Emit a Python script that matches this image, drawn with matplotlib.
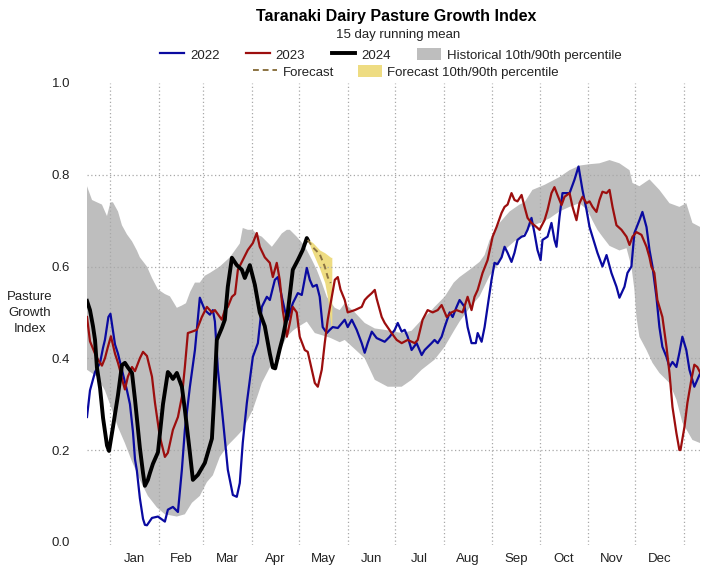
import numpy as np
import matplotlib.pyplot as plt
from matplotlib.lines import Line2D
from matplotlib.patches import Patch

plt.rcParams['font.family'] = ['Liberation Sans', 'DejaVu Sans']

months = ['Jan', 'Feb', 'Mar', 'Apr', 'May', 'Jun',
          'Jul', 'Aug', 'Sep', 'Oct', 'Nov', 'Dec']
month_days = [31, 28, 31, 30, 31, 30, 31, 31, 30, 31, 30, 31]

# x = day of year (0 = 1 Jan), values = growth index
d2022 = [-14.6, -12.7, -9.5, -6.3, -4.4, -3.2, -1.0, 0.3, 3.2, 5.1, 7.6, 10.8, 12.7, 14.6,
         15.9, 17.1, 19.0, 21.0, 22.2, 23.5, 26.7, 30.5, 34.9, 36.8, 40.0, 43.2, 45.7, 47.6,
         50.8, 54.0, 57.1, 60.3, 63.5, 65.4, 66.7, 68.6, 71.8, 74.9, 78.1, 80.6, 82.5, 84.4,
         87.0, 90.8, 94.0, 96.5, 99.7, 101.6, 104.8, 106.7, 109.2, 111.1, 113.0, 116.2, 119.4,
         121.9, 125.1, 127.0, 128.9, 131.4, 133.3, 135.2, 137.8, 139.7, 141.6, 144.8, 149.2,
         151.1, 153.7, 156.8, 160.0, 161.9, 163.8, 166.4, 169.5, 174.6, 177.8, 181.0, 182.9,
         185.4, 187.3, 189.2, 191.7, 194.9, 198.1, 200.0, 204.4, 206.3, 208.3, 210.8, 212.7,
         215.9, 217.8, 220.3, 222.2, 225.4, 227.3, 229.8, 232.5, 233.7, 236.2, 238.1, 240.0,
         242.5, 244.4, 246.3, 248.9, 250.8, 252.7, 255.2, 257.1, 259.0, 261.6, 263.5, 265.4,
         267.9, 269.8, 271.7, 273.7, 274.9, 278.1, 280.6, 282.5, 283.8, 285.7, 287.6, 292.1,
         295.2, 297.8, 300.3, 302.9, 304.8, 306.7, 309.8, 313.0, 315.6, 318.7, 321.9, 323.8,
         327.0, 328.9, 331.4, 333.3, 336.5, 338.4, 341.0, 342.9, 344.8, 347.3, 349.2, 351.1,
         353.7, 355.6, 357.5, 360.0, 361.9, 363.8, 366.3, 368.3, 371.4, 373.3, 375.2]
v2022 = [0.272, 0.33, 0.37, 0.39, 0.423, 0.44, 0.49, 0.497, 0.43, 0.41, 0.375, 0.33, 0.30, 0.24,
         0.18, 0.155, 0.095, 0.05, 0.037, 0.036, 0.052, 0.055, 0.044, 0.07, 0.076, 0.065, 0.157, 0.244,
         0.338, 0.418, 0.532, 0.505, 0.495, 0.505, 0.48, 0.375, 0.266, 0.157, 0.102, 0.098, 0.128, 0.216,
         0.303, 0.403, 0.433, 0.512, 0.534, 0.527, 0.571, 0.577, 0.534, 0.505, 0.484, 0.52, 0.542,
         0.538, 0.597, 0.571, 0.556, 0.56, 0.534, 0.468, 0.455, 0.462, 0.468, 0.466, 0.484,
         0.468, 0.484, 0.462, 0.433, 0.412, 0.433, 0.458, 0.444, 0.436, 0.447, 0.462, 0.477,
         0.458, 0.462, 0.447, 0.418, 0.433, 0.407, 0.418, 0.433, 0.44, 0.433, 0.447, 0.468,
         0.50, 0.49, 0.512, 0.527, 0.512, 0.468, 0.433, 0.433, 0.455, 0.436, 0.468, 0.512,
         0.571, 0.608, 0.605, 0.62, 0.643, 0.63, 0.61, 0.63, 0.658, 0.665, 0.667, 0.68,
         0.706, 0.673, 0.636, 0.614, 0.658, 0.665, 0.695, 0.658, 0.643, 0.708, 0.76, 0.76,
         0.789, 0.818, 0.767, 0.723, 0.686, 0.665, 0.63, 0.60, 0.625, 0.586, 0.556, 0.532,
         0.556, 0.586, 0.60, 0.673, 0.701, 0.719, 0.686, 0.636, 0.60, 0.534, 0.468, 0.425,
         0.403, 0.381, 0.392, 0.381, 0.412, 0.447, 0.418, 0.375, 0.338, 0.353, 0.368]

d2023 = [-14.6, -12.7, -9.5, -7.6, -5.1, -3.2, -1.3, 0.6, 3.2, 5.1, 6.3, 7.6, 9.5, 11.4, 14.0,
         15.9, 19.0, 21.0, 23.5, 26.7, 28.6, 31.7, 34.9, 36.8, 40.0, 43.2, 45.7, 47.6, 49.5,
         52.1, 55.2, 58.4, 61.6, 64.8, 66.7, 71.1, 73.0, 74.9, 77.5, 79.5, 81.3, 84.4, 87.6,
         90.8, 93.3, 95.2, 98.4, 101.6, 103.5, 106.0, 107.9, 109.8, 112.4, 114.3, 116.2, 118.7,
         120.6, 123.8, 125.7, 128.3, 130.2, 132.1, 134.6, 136.5, 138.4, 141.0, 142.9, 144.8,
         146.5, 149.2, 151.1, 155.6, 160.0, 161.9, 163.8, 166.4, 168.3, 169.5, 172.7, 174.6,
         179.0, 182.2, 185.4, 189.2, 193.7, 195.6, 198.7, 201.9, 205.1, 208.3, 210.8, 214.0,
         217.1, 220.3, 224.1, 227.3, 229.8, 231.7, 233.7, 236.8, 240.0, 243.2, 245.7, 248.9,
         250.8, 252.7, 255.2, 257.1, 259.0, 261.6, 263.5, 265.4, 267.9, 271.1, 273.0, 276.2,
         278.1, 280.6, 282.5, 284.4, 287.0, 288.9, 292.1, 294.0, 296.5, 298.4, 300.3, 302.9,
         304.8, 306.7, 309.2, 311.1, 313.0, 315.6, 317.5, 319.4, 321.9, 325.1, 328.3, 330.2,
         332.1, 334.6, 337.8, 341.0, 342.9, 344.1, 346.0, 347.9, 351.1, 353.7, 355.6, 357.5,
         360.0, 361.9, 362.6, 365.1, 367.0, 369.5, 371.4, 373.3, 375.2]
v2023 = [0.49, 0.437, 0.41, 0.397, 0.384, 0.40, 0.425, 0.448, 0.41, 0.39, 0.375, 0.355, 0.332, 0.36, 0.381,
         0.372, 0.40, 0.414, 0.405, 0.36, 0.303, 0.229, 0.185, 0.194, 0.244, 0.272, 0.316, 0.381, 0.455,
         0.458, 0.462, 0.49, 0.512, 0.50, 0.505, 0.484, 0.505, 0.512, 0.534, 0.54, 0.593, 0.614, 0.636,
         0.651, 0.673, 0.643, 0.62, 0.608, 0.577, 0.608, 0.571, 0.505, 0.447, 0.477, 0.512, 0.50,
         0.447, 0.418, 0.414, 0.375, 0.346, 0.338, 0.375, 0.433, 0.484, 0.534, 0.571, 0.577,
         0.55, 0.527, 0.50, 0.505, 0.512, 0.527, 0.534, 0.542, 0.549, 0.53, 0.49, 0.477,
         0.455, 0.44, 0.433, 0.44, 0.433, 0.44, 0.484, 0.505, 0.50, 0.505, 0.516, 0.49,
         0.50, 0.505, 0.50, 0.534, 0.505, 0.534, 0.549, 0.586, 0.614, 0.665, 0.686, 0.717,
         0.73, 0.735, 0.76, 0.745, 0.742, 0.756, 0.73, 0.706, 0.695, 0.686, 0.68, 0.701,
         0.723, 0.76, 0.773, 0.756, 0.734, 0.752, 0.76, 0.73, 0.701, 0.738, 0.752, 0.738,
         0.742, 0.73, 0.719, 0.745, 0.763, 0.76, 0.767, 0.73, 0.69, 0.68, 0.665, 0.647,
         0.665, 0.675, 0.669, 0.643, 0.62, 0.60, 0.586, 0.527, 0.49, 0.425, 0.368, 0.294,
         0.237, 0.20, 0.20, 0.25, 0.303, 0.353, 0.386, 0.381, 0.368]

d2024 = [-14.6, -12.7, -10.8, -9.5, -8.3, -6.3, -4.4, -1.9, -0.6, 1.9, 5.1, 7.6, 9.5, 11.4,
         14.0, 15.9, 19.0, 21.0, 22.2, 24.1, 25.4, 27.3, 30.5, 33.7, 36.8, 38.1, 40.0, 42.5,
         45.7, 47.6, 50.8, 52.7, 55.9, 60.3, 64.8, 66.0, 67.9, 71.1, 73.0, 74.9, 77.5, 80.6,
         83.8, 85.7, 88.9, 92.1, 95.2, 98.4, 101.6, 103.5, 105.0, 107.9, 109.8, 113.0, 116.2,
         119.4, 122.5, 125.1, 125.7]
v2024 = [0.525, 0.505, 0.47, 0.44, 0.38, 0.335, 0.27, 0.21, 0.198, 0.25, 0.32, 0.385, 0.39, 0.38,
         0.368, 0.31, 0.205, 0.15, 0.122, 0.135, 0.15, 0.17, 0.195, 0.30, 0.37, 0.365, 0.355, 0.368,
         0.338, 0.288, 0.194, 0.135, 0.146, 0.172, 0.225, 0.30, 0.44, 0.466, 0.484, 0.556, 0.619, 0.603,
         0.593, 0.575, 0.603, 0.56, 0.50, 0.47, 0.41, 0.38, 0.378, 0.42, 0.445, 0.50, 0.593,
         0.614, 0.636, 0.662, 0.658]

d_fc = [125.7, 128.9, 133.3, 136.5, 138.4, 140.3]
v_fc = [0.658, 0.642, 0.627, 0.60, 0.577, 0.564]
d_fc_band = [125.7, 128.9, 133.3, 136.5, 138.4, 140.3, 141.0]
fc_hi = [0.66, 0.652, 0.636, 0.63, 0.625, 0.62, 0.62]
fc_lo = [0.658, 0.63, 0.595, 0.565, 0.53, 0.475, 0.46]

d_hist_hi = [-14.6, -11.4, -8.3, -5.1, -1.9, 0.3, 1.9, 5.1, 7.6, 10.8, 14.0, 17.1, 19.0, 23.5,
             26.7, 30.5, 34.9, 38.1, 42.5, 45.7, 48.3, 51.0, 54.0, 57.1, 60.3, 63.5, 69.8, 76.2,
             82.5, 84.4, 87.6, 90.8, 93.3, 96.5, 102.9, 106.7, 109.2, 112.4, 114.3, 118.7, 122.5,
             125.1, 128.3, 131.4, 134.6, 137.8, 142.9, 146.0, 149.2, 152.4, 155.6, 161.9, 168.3,
             174.6, 185.4, 191.7, 198.1, 203.2, 206.3, 212.7, 218.5, 222.2, 228.6, 234.9, 238.1,
             241.3, 247.6, 254.0, 260.3, 263.5, 268.5, 276.2, 285.7, 292.1, 298.4, 304.8, 311.1,
             317.5, 323.8, 330.2, 332.1, 336.5, 342.9, 349.2, 355.6, 361.9, 366.3, 370.2, 375.2]
v_hist_hi = [0.775, 0.745, 0.74, 0.735, 0.71, 0.74, 0.74, 0.72, 0.69, 0.67, 0.655, 0.635, 0.62, 0.60,
             0.575, 0.55, 0.54, 0.535, 0.51, 0.515, 0.52, 0.545, 0.565, 0.565, 0.58, 0.586, 0.60, 0.62,
             0.65, 0.684, 0.68, 0.68, 0.67, 0.665, 0.643, 0.66, 0.672, 0.68, 0.68, 0.665, 0.65,
             0.636, 0.615, 0.593, 0.565, 0.534, 0.51, 0.505, 0.52, 0.51, 0.50, 0.477, 0.465,
             0.462, 0.455, 0.46, 0.484, 0.50, 0.512, 0.534, 0.565, 0.577, 0.593, 0.61, 0.625,
             0.658, 0.695, 0.72, 0.735, 0.74, 0.767, 0.778, 0.795, 0.81, 0.82, 0.823, 0.825,
             0.832, 0.825, 0.81, 0.782, 0.775, 0.79, 0.767, 0.738, 0.73, 0.738, 0.695, 0.686]

d_hist_lo = [-14.6, -8.3, -3.2, 0.0, 5.1, 9.5, 14.0, 19.0, 24.1, 29.8, 34.9, 42.5, 47.6, 52.1,
             57.1, 61.6, 65.4, 69.8, 74.9, 80.6, 84.4, 88.2, 90.8, 94.0, 96.5, 101.6, 106.0,
             112.4, 116.2, 119.4, 125.1, 130.2, 139.7, 146.0, 149.2, 155.6, 161.9, 168.3, 176.5,
             185.4, 191.7, 198.1, 206.3, 212.7, 219.0, 222.2, 228.6, 234.9, 241.3, 245.7, 250.8,
             257.1, 261.6, 266.7, 273.0, 279.4, 285.7, 292.1, 298.4, 303.5, 306.7, 309.8, 313.0,
             317.5, 323.8, 328.3, 331.4, 333.3, 334.6, 336.5, 341.0, 344.8, 349.2, 355.6, 360.0,
             363.8, 370.2, 375.2]
v_hist_lo = [0.375, 0.36, 0.33, 0.30, 0.25, 0.215, 0.175, 0.135, 0.10, 0.075, 0.06, 0.055, 0.06, 0.085,
             0.10, 0.13, 0.145, 0.185, 0.21, 0.23, 0.244, 0.27, 0.288, 0.32, 0.346, 0.38, 0.403,
             0.447, 0.46, 0.468, 0.48, 0.455, 0.445, 0.435, 0.44, 0.42, 0.40, 0.353, 0.338,
             0.338, 0.353, 0.375, 0.397, 0.425, 0.462, 0.48, 0.51, 0.535, 0.58, 0.60, 0.636,
             0.655, 0.665, 0.686, 0.695, 0.705, 0.72, 0.73, 0.738, 0.723, 0.70, 0.68, 0.665,
             0.645, 0.635, 0.64, 0.60, 0.55, 0.49, 0.447, 0.418, 0.39, 0.368, 0.346, 0.31,
             0.26, 0.222, 0.215]

c2022 = '#0a0aa0'
c2023 = '#9c0e0e'
c2024 = 'black'
c_hist = '#bebebe'
c_fc = '#8b7342'
c_fcband = '#eedc82'
c_grid = '#a8a8a8'
c_text = '#222222'
fs = 9.5

month_starts = np.concatenate([[0], np.cumsum(month_days)])
month_mids = month_starts[:-1] + np.array(month_days) / 2

W, H = 701, 566
fig = plt.figure(figsize=(W / 100, H / 100), dpi=100)
ax = fig.add_axes([87 / W, 1 - 545 / H, (700 - 87) / W, (545 - 83) / H])
ax.set_xlim(-14.6, 375)
ax.set_ylim(-0.007, 1.0)

# historical band as a polygon
ax.fill(np.r_[d_hist_hi, d_hist_lo[::-1]], np.r_[v_hist_hi, v_hist_lo[::-1]],
        color=c_hist, lw=0, zorder=1)
ax.fill_between(d_fc_band, fc_lo, fc_hi, color=c_fcband, lw=0, zorder=1.2)

for s in month_starts:
    ax.axvline(s, color=c_grid, ls=(0, (1, 2)), lw=0.9, zorder=1.5)
for y in [0.2, 0.4, 0.6, 0.8]:
    ax.axhline(y, color=c_grid, ls=(0, (1, 2)), lw=0.9, zorder=1.5)

ax.plot(d2022, v2022, color=c2022, lw=1.6, zorder=3)
ax.plot(d2023, v2023, color=c2023, lw=1.6, zorder=3)
ax.plot(d2024, v2024, color=c2024, lw=2.8, zorder=4)
ax.plot(d_fc, v_fc, color=c_fc, lw=1.4, ls=(0, (3, 2)), zorder=4)

for sp in ax.spines.values():
    sp.set_visible(False)
ax.set_xticks(month_mids, months)
ax.set_yticks([0, 0.2, 0.4, 0.6, 0.8, 1.0], ['0.0', '0.2', '0.4', '0.6', '0.8', '1.0'])
ax.tick_params(axis='x', length=0, pad=6, labelsize=fs, labelcolor=c_text)
ax.tick_params(axis='y', length=0, pad=12, labelsize=fs, labelcolor=c_text)

fig.text(30 / W, 1 - 313 / H, 'Pasture\nGrowth\nIndex', ha='center', va='center',
         fontsize=fs, color=c_text, linespacing=1.4)

fig.text(396 / W, 1 - 17 / H, 'Taranaki Dairy Pasture Growth Index', ha='center', va='center',
         fontsize=11.5, fontweight='bold', color='black')
fig.text(398 / W, 1 - 35 / H, '15 day running mean', ha='center', va='center',
         fontsize=fs, color=c_text)

h1 = [Line2D([], [], color=c2022, lw=1.6), Line2D([], [], color=c2023, lw=1.6),
      Line2D([], [], color=c2024, lw=2.8), Patch(facecolor=c_hist, edgecolor='none')]
leg1 = fig.legend(h1, ['2022', '2023', '2024', 'Historical 10th/90th percentile'],
                  loc='center', bbox_to_anchor=(391 / W, 1 - 55 / H), ncol=4, frameon=False,
                  fontsize=fs, handlelength=1.8, handleheight=1.0, handletextpad=0.45,
                  columnspacing=2.0, borderpad=0, borderaxespad=0)
h2 = [Line2D([], [], color=c_fc, lw=1.4, ls=(0, (3, 2))),
      Patch(facecolor=c_fcband, edgecolor='none')]
leg2 = fig.legend(h2, ['Forecast', 'Forecast 10th/90th percentile'],
                  loc='center', bbox_to_anchor=(406 / W, 1 - 72 / H), ncol=2, frameon=False,
                  fontsize=fs, handlelength=1.8, handleheight=1.0, handletextpad=0.45,
                  columnspacing=1.8, borderpad=0, borderaxespad=0)
for t in leg1.get_texts() + leg2.get_texts():
    t.set_color(c_text)

fig.savefig('out.png', dpi=100)
